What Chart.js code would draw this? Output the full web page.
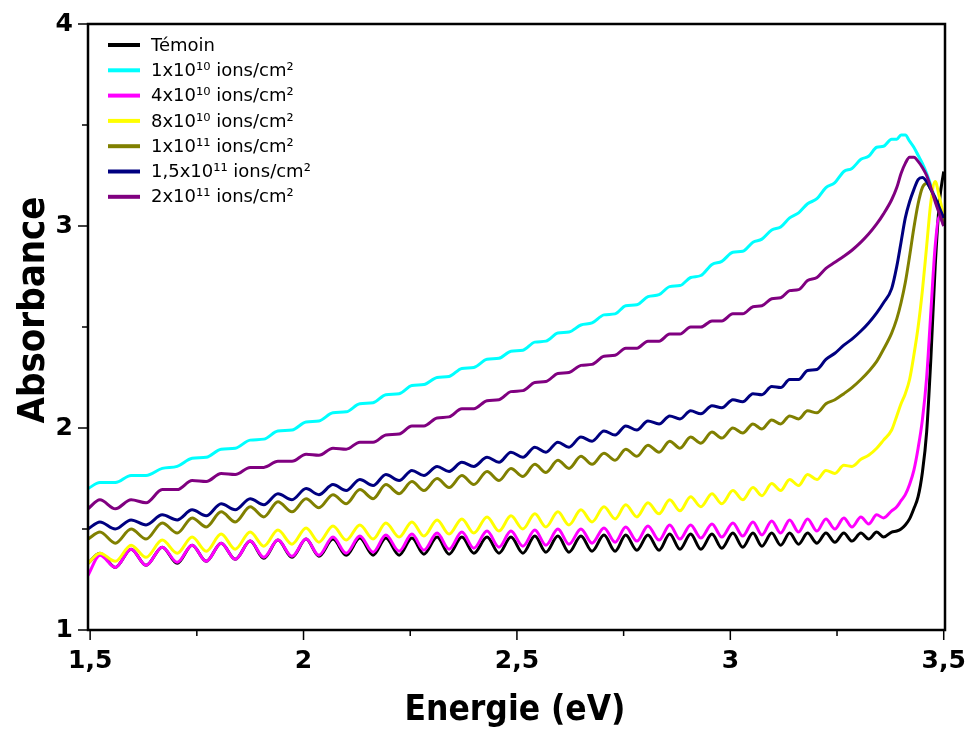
<!DOCTYPE html>
<html>
<head>
<meta charset="utf-8">
<script src="https://cdn.jsdelivr.net/npm/chart.js@4.4.1/dist/chart.umd.min.js"></script>
<style>
  html, body { margin: 0; padding: 0; background: #fff; }
  canvas { display: block; }
</style>
</head>
<body>
<canvas id="absorbance" width="965" height="730"></canvas>
<script>
// Energie (eV) : maxima / minima des franges + front d'absorption
const energie = [1.495,
  1.523, 1.559, 1.596, 1.631, 1.669, 1.704, 1.739, 1.772, 1.807, 1.840,
  1.875, 1.907, 1.940, 1.973, 2.006, 2.036, 2.069, 2.100, 2.132, 2.163,
  2.193, 2.224, 2.254, 2.282, 2.313, 2.341, 2.371, 2.399, 2.430, 2.458,
  2.486, 2.514, 2.542, 2.568, 2.596, 2.622, 2.650, 2.676, 2.704, 2.730,
  2.755, 2.781, 2.807, 2.833, 2.858, 2.882, 2.907, 2.931, 2.957, 2.980,
  3.006, 3.029, 3.053, 3.074, 3.097, 3.118, 3.139, 3.160, 3.181, 3.203,
  3.224, 3.245, 3.266, 3.285, 3.306, 3.324, 3.343, 3.359, 3.378,
  3.39, 3.40, 3.41, 3.42, 3.43, 3.44, 3.45, 3.46, 3.47, 3.48, 3.49, 3.50];

const temoin = [1.33,
  1.38, 1.31, 1.40, 1.32, 1.41, 1.33, 1.42, 1.34, 1.43, 1.35,
  1.44, 1.355, 1.445, 1.36, 1.45, 1.365, 1.45, 1.37, 1.455, 1.37,
  1.455, 1.37, 1.455, 1.375, 1.46, 1.375, 1.46, 1.38, 1.46, 1.38,
  1.46, 1.38, 1.465, 1.385, 1.465, 1.385, 1.465, 1.39, 1.47, 1.39,
  1.47, 1.395, 1.47, 1.395, 1.475, 1.40, 1.475, 1.40, 1.475, 1.405,
  1.48, 1.41, 1.48, 1.415, 1.48, 1.42, 1.48, 1.425, 1.48, 1.43,
  1.48, 1.435, 1.48, 1.44, 1.48, 1.45, 1.485, 1.46, 1.485,
  1.49, 1.50, 1.52, 1.55, 1.60, 1.66, 1.78, 1.98, 2.35, 2.80, 3.12, 3.27];

const dose1e10 = [1.70,
  1.73, 1.73, 1.765, 1.765, 1.80, 1.81, 1.85, 1.855, 1.895, 1.90,
  1.94, 1.945, 1.985, 1.99, 2.03, 2.035, 2.075, 2.08, 2.12, 2.125,
  2.165, 2.17, 2.21, 2.215, 2.25, 2.255, 2.295, 2.30, 2.34, 2.345,
  2.38, 2.385, 2.425, 2.43, 2.47, 2.475, 2.51, 2.52, 2.56, 2.565,
  2.605, 2.61, 2.65, 2.66, 2.70, 2.705, 2.745, 2.755, 2.81, 2.825,
  2.87, 2.875, 2.92, 2.935, 2.98, 2.995, 3.04, 3.065, 3.11, 3.135,
  3.19, 3.215, 3.27, 3.285, 3.33, 3.345, 3.39, 3.395, 3.43,
  3.43, 3.45, 3.45, 3.42, 3.39, 3.35, 3.31, 3.26, 3.20, 3.13, 3.07, 3.02];

const dose4e10 = [1.27,
  1.37, 1.31, 1.40, 1.32, 1.41, 1.335, 1.42, 1.34, 1.43, 1.35,
  1.44, 1.36, 1.445, 1.365, 1.45, 1.37, 1.46, 1.38, 1.465, 1.385,
  1.47, 1.39, 1.475, 1.395, 1.48, 1.40, 1.485, 1.405, 1.49, 1.41,
  1.49, 1.415, 1.495, 1.42, 1.50, 1.425, 1.50, 1.43, 1.505, 1.435,
  1.51, 1.44, 1.515, 1.445, 1.52, 1.45, 1.52, 1.455, 1.525, 1.46,
  1.53, 1.465, 1.535, 1.47, 1.54, 1.48, 1.545, 1.485, 1.55, 1.49,
  1.55, 1.50, 1.555, 1.51, 1.56, 1.525, 1.57, 1.555, 1.59,
  1.61, 1.64, 1.67, 1.72, 1.79, 1.90, 2.04, 2.25, 2.58, 2.90, 3.05, 3.00];

const dose8e10 = [1.33,
  1.38, 1.34, 1.42, 1.36, 1.445, 1.38, 1.46, 1.39, 1.475, 1.40,
  1.485, 1.415, 1.495, 1.425, 1.505, 1.435, 1.515, 1.445, 1.52, 1.45,
  1.53, 1.46, 1.535, 1.465, 1.545, 1.475, 1.55, 1.48, 1.56, 1.49,
  1.565, 1.50, 1.575, 1.51, 1.585, 1.52, 1.595, 1.535, 1.61, 1.55,
  1.62, 1.56, 1.63, 1.575, 1.645, 1.59, 1.66, 1.61, 1.675, 1.625,
  1.69, 1.645, 1.705, 1.665, 1.725, 1.69, 1.745, 1.715, 1.77, 1.745,
  1.79, 1.775, 1.815, 1.81, 1.845, 1.865, 1.90, 1.94, 1.99,
  2.06, 2.12, 2.17, 2.24, 2.36, 2.50, 2.68, 2.90, 3.12, 3.22, 3.14, 3.05];

const dose1e11 = [1.45,
  1.485, 1.43, 1.50, 1.45, 1.53, 1.48, 1.555, 1.51, 1.585, 1.535,
  1.61, 1.56, 1.635, 1.585, 1.65, 1.605, 1.67, 1.625, 1.695, 1.65,
  1.72, 1.675, 1.735, 1.69, 1.75, 1.705, 1.765, 1.72, 1.785, 1.74,
  1.80, 1.76, 1.82, 1.78, 1.84, 1.80, 1.86, 1.82, 1.875, 1.84,
  1.895, 1.86, 1.915, 1.88, 1.935, 1.90, 1.955, 1.925, 1.98, 1.95,
  2.00, 1.975, 2.02, 1.995, 2.04, 2.02, 2.06, 2.045, 2.085, 2.075,
  2.12, 2.14, 2.17, 2.20, 2.24, 2.28, 2.33, 2.39, 2.47,
  2.54, 2.62, 2.72, 2.85, 2.99, 3.11, 3.19, 3.21, 3.18, 3.13, 3.07, 3.02];

const dose15e11 = [1.50,
  1.535, 1.50, 1.545, 1.52, 1.57, 1.545, 1.595, 1.565, 1.625, 1.595,
  1.65, 1.62, 1.675, 1.645, 1.70, 1.67, 1.72, 1.69, 1.745, 1.715,
  1.77, 1.74, 1.79, 1.765, 1.81, 1.785, 1.83, 1.81, 1.855, 1.83,
  1.88, 1.855, 1.905, 1.88, 1.93, 1.905, 1.955, 1.935, 1.985, 1.965,
  2.01, 1.99, 2.035, 2.02, 2.06, 2.045, 2.085, 2.07, 2.11, 2.10,
  2.14, 2.13, 2.17, 2.165, 2.205, 2.20, 2.24, 2.24, 2.285, 2.29,
  2.34, 2.37, 2.41, 2.44, 2.48, 2.52, 2.57, 2.62, 2.69,
  2.80, 2.92, 3.04, 3.12, 3.18, 3.23, 3.24, 3.22, 3.18, 3.14, 3.09, 3.04];

const dose2e11 = [1.60,
  1.645, 1.60, 1.645, 1.63, 1.695, 1.695, 1.74, 1.735, 1.775, 1.77,
  1.805, 1.805, 1.835, 1.835, 1.87, 1.865, 1.90, 1.895, 1.93, 1.93,
  1.965, 1.97, 2.01, 2.01, 2.05, 2.055, 2.095, 2.095, 2.135, 2.14,
  2.18, 2.185, 2.225, 2.23, 2.27, 2.275, 2.31, 2.315, 2.355, 2.36,
  2.395, 2.395, 2.43, 2.43, 2.465, 2.465, 2.50, 2.50, 2.53, 2.53,
  2.565, 2.565, 2.60, 2.605, 2.64, 2.645, 2.68, 2.685, 2.73, 2.745,
  2.79, 2.82, 2.85, 2.88, 2.92, 2.96, 3.01, 3.06, 3.13,
  3.19, 3.26, 3.31, 3.34, 3.34, 3.32, 3.29, 3.25, 3.19, 3.12, 3.06, 3.00];

const series = [
  { label: 'Témoin', values: temoin, color: '#000000' },
  { label: '1x10¹⁰ ions/cm²', values: dose1e10, color: '#00FFFF' },
  { label: '4x10¹⁰ ions/cm²', values: dose4e10, color: '#FF00FF' },
  { label: '8x10¹⁰ ions/cm²', values: dose8e10, color: '#FFFF00' },
  { label: '1x10¹¹ ions/cm²', values: dose1e11, color: '#808000' },
  { label: '1,5x10¹¹ ions/cm²', values: dose15e11, color: '#000080' },
  { label: '2x10¹¹ ions/cm²', values: dose2e11, color: '#800080' },
];

const isMajor = (v, step) => Math.abs(v / step - Math.round(v / step)) < 1e-6;
const fmt = v => String(+v.toFixed(2)).replace('.', ',');

// pas de marge automatique pour les étiquettes en bout d'axe
const noEdgePadding = s => {
  s.paddingLeft = 0; s.paddingRight = 0;
  s.paddingTop = 0; s.paddingBottom = 0;
};

// cadre, graduations, titres d'axes et légende
const decorPlugin = {
  id: 'decor',
  afterDraw(chart) {
    const { ctx, chartArea: a, scales } = chart;
    ctx.save();
    ctx.strokeStyle = '#000';
    ctx.lineWidth = 2.5;
    ctx.strokeRect(a.left, a.top, a.right - a.left, a.bottom - a.top);

    ctx.lineWidth = 1.5;
    ctx.beginPath();
    scales.x.ticks.forEach(t => {
      const px = scales.x.getPixelForValue(t.value);
      const len = isMajor(t.value, 0.5) ? 10 : 6;
      ctx.moveTo(px, a.bottom);
      ctx.lineTo(px, a.bottom + len);
    });
    scales.y.ticks.forEach(t => {
      const py = scales.y.getPixelForValue(t.value);
      const len = isMajor(t.value, 1) ? 10 : 6;
      ctx.moveTo(a.left, py);
      ctx.lineTo(a.left - len, py);
    });
    ctx.stroke();

    ctx.fillStyle = '#000';
    ctx.font = 'bold 35px "DejaVu Sans Condensed"';
    ctx.textAlign = 'center';
    ctx.textBaseline = 'alphabetic';
    ctx.fillText('Energie (eV)', 515, 720);
    ctx.save();
    ctx.translate(44, 310);
    ctx.rotate(-Math.PI / 2);
    ctx.font = 'bold 38px "DejaVu Sans Condensed"';
    ctx.fillText('Absorbance', 0, 0);
    ctx.restore();

    ctx.font = '18px "DejaVu Sans"';
    ctx.textAlign = 'left';
    ctx.textBaseline = 'middle';
    ctx.lineWidth = 4;
    series.forEach((s, i) => {
      const y = 45 + i * 25.3;
      ctx.strokeStyle = s.color;
      ctx.beginPath();
      ctx.moveTo(108, y);
      ctx.lineTo(140, y);
      ctx.stroke();
      ctx.fillText(s.label, 151, y + 1);
    });
    ctx.restore();
  }
};

new Chart(document.getElementById('absorbance'), {
  type: 'line',
  data: {
    datasets: series.map((s, i) => ({
      label: s.label,
      data: energie.map((e, k) => ({ x: e, y: s.values[k] })),
      borderColor: s.color,
      backgroundColor: s.color,
      borderWidth: 3,
      pointRadius: 0,
      cubicInterpolationMode: 'monotone',
      order: series.length - i,
    }))
  },
  options: {
    responsive: false,
    animation: false,
    devicePixelRatio: 1,
    layout: { padding: { top: 24, right: 20, left: 0, bottom: 0 } },
    plugins: { legend: { display: false }, tooltip: { enabled: false } },
    scales: {
      x: {
        type: 'linear',
        min: 1.495,
        max: 3.503,
        afterFit: s => { s.height = 100; noEdgePadding(s); },
        grid: { display: false, drawTicks: false },
        border: { display: false },
        ticks: {
          stepSize: 0.25,
          includeBounds: false,
          autoSkip: false,
          maxRotation: 0,
          padding: 16,
          color: '#000',
          font: { family: 'DejaVu Sans', weight: 'bold', size: 25 },
          callback: v => isMajor(v, 0.5) ? fmt(v) : ''
        }
      },
      y: {
        min: 1,
        max: 4,
        afterFit: s => { s.width = 88; noEdgePadding(s); },
        grid: { display: false, drawTicks: false },
        border: { display: false },
        ticks: {
          stepSize: 0.5,
          autoSkip: false,
          padding: 15,
          color: '#000',
          font: { family: 'DejaVu Sans', weight: 'bold', size: 25 },
          callback: v => isMajor(v, 1) ? fmt(v) : ''
        }
      }
    }
  },
  plugins: [decorPlugin]
});
</script>
</body>
</html>
